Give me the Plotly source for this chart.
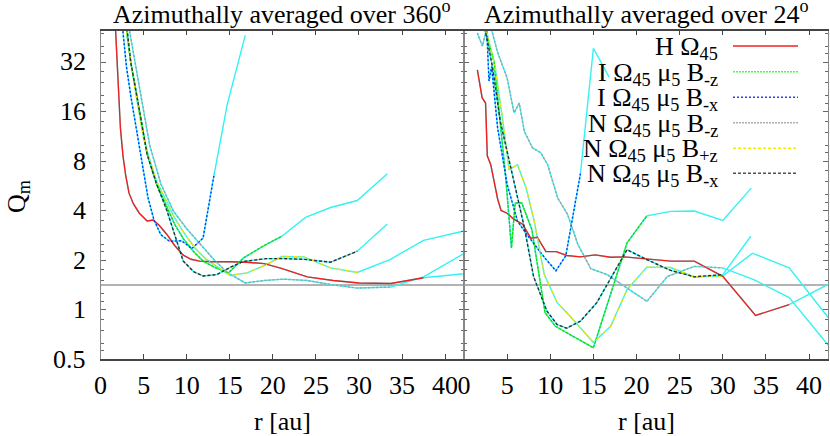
import math
import plotly.graph_objects as go

W, H = 830, 436

# ---------------- data ----------------
# left panel: azimuthally averaged over 360 deg
# each series = coloured inner part + cyan continuation (tail starts at last inner point)
h_l_x = [1.7, 2.3, 2.6, 2.9, 3.3, 3.8, 4.5, 5.4, 6.1, 6.8, 7.7, 8.6, 9.6, 10.5, 11.5, 13.0, 15.0, 17.0, 19.0, 21.0, 24.0, 27.0, 30.0, 33.7, 37.5]
h_l_y = [55, 12.7, 8.6, 6.6, 5.1, 4.4, 3.85, 3.45, 3.5, 3.25, 2.86, 2.45, 2.14, 2.02, 1.97, 1.95, 1.95, 1.94, 1.9, 1.78, 1.58, 1.5, 1.45, 1.44, 1.56]
h_l_tx = [37.5, 42.2]
h_l_ty = [1.56, 1.65]

ibz_l_x = [2.9, 3.5, 4.2, 5.4, 6.5, 7.7, 8.6, 9.6, 10.8, 11.9, 13.3, 14.85, 16.6, 19.0, 21.05]
ibz_l_y = [55, 32, 20, 8.8, 5.8, 4.2, 3.3, 2.7, 2.25, 1.97, 1.8, 1.67, 2.06, 2.45, 2.79]
ibz_l_tx = [21.05, 23.8, 26.7, 29.8, 33.3]
ibz_l_ty = [2.79, 3.63, 4.17, 4.6, 6.7]

ibx_l_x = [2.5, 3.0, 3.5, 4.0, 4.5, 5.0, 5.5, 6.2, 7.0, 8.0, 9.4, 10.6, 11.9, 13.2]
ibx_l_y = [55, 30, 20, 14, 10, 7.2, 4.8, 3.5, 2.85, 2.6, 2.62, 2.35, 2.72, 6.7]
ibx_l_tx = [13.2, 14.7, 16.8]
ibx_l_ty = [6.7, 17.6, 46.5]

nbz_l_x = [3.2, 3.8, 4.6, 5.7, 7.0, 8.45, 10.0, 11.6, 13.2, 14.7, 16.8, 19.0, 21.2, 24.0, 26.7, 29.8, 33.7]
nbz_l_y = [55, 37, 21, 10, 5.8, 3.97, 3.1, 2.49, 2.0, 1.68, 1.45, 1.5, 1.53, 1.5, 1.42, 1.35, 1.37]
nbz_l_tx = [33.7, 37.5, 42.2]
nbz_l_ty = [1.37, 1.58, 2.19]

npz_l_x = [2.9, 3.5, 4.2, 5.0, 5.6, 6.5, 7.7, 8.6, 9.8, 11.0, 12.3, 13.7, 15.05, 17.0, 19.0, 21.05, 23.6, 26.7, 29.8]
npz_l_y = [55, 32, 19, 11, 8.5, 6.0, 4.5, 3.6, 2.86, 2.35, 2.01, 1.8, 1.61, 1.67, 1.85, 2.1, 2.09, 1.79, 1.68]
npz_l_tx = [29.8, 33.6, 37.5, 42.2]
npz_l_ty = [1.68, 2.01, 2.63, 3.0]

nbx_l_x = [3.0, 3.5, 4.2, 5.4, 6.5, 7.7, 8.85, 9.6, 10.8, 11.9, 13.5, 15.0, 16.6, 19.3, 21.0, 23.6, 26.7, 29.8]
nbx_l_y = [55, 32, 20, 8.8, 5.8, 4.0, 2.6, 1.97, 1.7, 1.6, 1.63, 1.8, 1.96, 2.04, 2.04, 2.02, 1.94, 2.26]
nbx_l_tx = [29.8, 33.3]
nbx_l_ty = [2.26, 3.31]

# right panel: azimuthally averaged over 24 deg
h_r_x = [1.55, 2.1, 2.5, 2.7, 3.1, 3.9, 4.3, 5.0, 5.8, 6.8, 7.75, 8.5, 9.5, 10.7, 11.9, 13.5, 15.2, 17.0, 18.6, 20.1, 22.0, 23.95, 26.7, 30.0, 33.8, 37.7]
h_r_y = [28.7, 19.4, 18, 8.6, 7.6, 4.7, 4.0, 3.85, 3.53, 3.3, 2.71, 2.75, 2.25, 2.25, 2.13, 2.09, 2.15, 2.08, 2.09, 2.05, 2.02, 1.97, 1.97, 1.59, 0.92, 1.07]
h_r_tx = [37.7, 42.2]
h_r_ty = [1.07, 1.42]

ibz_r_x = [2.2, 3.5, 4.26, 4.85, 5.5, 5.93, 6.7, 7.87, 9.4, 10.6, 12.8, 15.0, 18.9, 21.2]
ibz_r_y = [55, 32, 12.7, 6.3, 2.37, 4.44, 4.44, 3.06, 0.955, 0.79, 0.68, 0.585, 2.54, 3.71]
ibz_r_tx = [21.2, 23.95, 26.7, 30.0, 33.3]
ibz_r_ty = [3.71, 3.95, 3.97, 3.48, 5.47]

ibx_r_x = [2.6, 2.9, 3.2, 3.9, 5.0, 6.2, 7.2, 8.14, 9.4, 10.66, 11.8, 13.5]
ibx_r_y = [55, 24.5, 30, 12.7, 5.77, 3.45, 2.9, 2.49, 2.05, 1.72, 2.12, 6.7]
ibx_r_tx = [13.5, 15.0, 16.8]
ibx_r_ty = [6.7, 38.8, 26.0]

nbz_r_x = [1.55, 2.13, 2.5, 3.0, 3.87, 5.0, 5.8, 6.4, 7.0, 7.95, 8.9, 9.7, 10.85, 12.0, 13.2, 14.7, 16.6, 18.9, 21.2, 23.6, 26.7, 30.0]
nbz_r_y = [48, 40, 48, 55, 37, 25.6, 15.7, 18, 12.1, 9.6, 8.98, 7.6, 4.78, 3.79, 2.49, 1.77, 1.63, 1.35, 1.12, 1.59, 1.83, 1.79]
nbz_r_tx = [30.0, 33.6, 37.7, 42.3]
nbz_r_ty = [1.79, 1.52, 1.18, 0.6]

npz_r_x = [2.4, 3.6, 4.5, 5.23, 6.2, 7.2, 8.14, 9.3, 10.8, 12.3, 15.0, 17.0, 18.9, 21.2, 23.95, 26.7, 30.0]
npz_r_y = [55, 30, 14, 7.1, 7.6, 5.5, 3.45, 1.64, 1.1, 0.91, 0.63, 0.79, 1.32, 1.81, 1.8, 1.58, 1.6]
npz_r_tx = [30.0, 33.45, 37.7, 42.4]
npz_r_ty = [1.6, 2.2, 1.79, 0.87]

nbx_r_x = [2.3, 3.3, 4.2, 5.4, 6.2, 7.0, 8.06, 9.6, 10.8, 11.9, 13.5, 15.4, 18.9, 21.2, 23.95, 26.7, 30.0]
nbx_r_y = [55, 30, 14, 7.3, 4.8, 3.15, 1.59, 0.98, 0.81, 0.77, 0.85, 1.1, 2.31, 2.01, 1.73, 1.58, 1.63]
nbx_r_tx = [30.0, 33.25]
nbx_r_ty = [1.63, 2.79]

q_crit = 1.41
x_ticks = [0, 5, 10, 15, 20, 25, 30, 35, 40]
y_ticks = [0.5, 1, 2, 4, 8, 16, 32]
y_tick_text = ["0.5", "1", "2", "4", "8", "16", "32"]
titles = ["Azimuthally averaged over 360<sup>o</sup>", "Azimuthally averaged over 24<sup>o</sup>"]
labels = ["H Ω<sub>45</sub>",
          "I Ω<sub>45</sub> μ<sub>5</sub> B<sub>-z</sub>",
          "I Ω<sub>45</sub> μ<sub>5</sub> B<sub>-x</sub>",
          "N Ω<sub>45</sub> μ<sub>5</sub> B<sub>-z</sub>",
          "N Ω<sub>45</sub> μ<sub>5</sub> B<sub>+z</sub>",
          "N Ω<sub>45</sub> μ<sub>5</sub> B<sub>-x</sub>"]

left = [(h_l_x, h_l_y, h_l_tx, h_l_ty), (ibz_l_x, ibz_l_y, ibz_l_tx, ibz_l_ty),
        (ibx_l_x, ibx_l_y, ibx_l_tx, ibx_l_ty), (nbz_l_x, nbz_l_y, nbz_l_tx, nbz_l_ty),
        (npz_l_x, npz_l_y, npz_l_tx, npz_l_ty), (nbx_l_x, nbx_l_y, nbx_l_tx, nbx_l_ty)]
right = [(h_r_x, h_r_y, h_r_tx, h_r_ty), (ibz_r_x, ibz_r_y, ibz_r_tx, ibz_r_ty),
         (ibx_r_x, ibx_r_y, ibx_r_tx, ibx_r_ty), (nbz_r_x, nbz_r_y, nbz_r_tx, nbz_r_ty),
         (npz_r_x, npz_r_y, npz_r_tx, npz_r_ty), (nbx_r_x, nbx_r_y, nbx_r_tx, nbx_r_ty)]

# styles (colour, dash) for the coloured overlays
styles = [("#f02020", "solid"), ("#10e010", "3px,1px"), ("#1030ff", "2px,2px"),
          ("#a0a0a0", "2px,2px"), ("#e8e800", "4px,2px,1px,2px"), ("#303030", "3px,2px")]
cyan = "#35f2f2"


def px(x):
    return x / W


def py(y):
    return 1 - y / H


fig = go.Figure()

for panel, xa, ya in [(left, "x", "y"), (right, "x2", "y2")]:
    fig.add_trace(go.Scatter(x=[0, 42.2], y=[q_crit, q_crit], mode="lines", xaxis=xa, yaxis=ya,
                             line=dict(color="#9a9a9a", width=1.5), showlegend=False, hoverinfo="skip"))
    # cyan continuation drawn underneath
    for sx, sy, tx, ty in panel:
        fig.add_trace(go.Scatter(x=sx + tx[1:], y=sy + ty[1:], mode="lines", xaxis=xa, yaxis=ya,
                                 line=dict(color=cyan, width=1.4), showlegend=False))
    for (sx, sy, tx, ty), (col, dash) in zip(panel, styles):
        fig.add_trace(go.Scatter(x=sx, y=sy, mode="lines", xaxis=xa, yaxis=ya,
                                 line=dict(color=col, width=1.4, dash=dash), showlegend=False))

font = dict(family="Liberation Serif", size=26, color="black")
minor_vals = [b * m for b in [0.25] + y_ticks for m in (1.125, 1.25, 1.5, 1.75)]

xcommon = dict(range=[0, 42.2], tickvals=x_ticks, ticks="inside", ticklen=5, tickcolor="#444",
               showline=True, linecolor="#444", linewidth=1.5, mirror="ticks", showgrid=False,
               zeroline=False, tickfont=font, ticklabelstandoff=2, automargin=False)
ycommon = dict(type="log", range=[-0.30103, 1.6955], tickvals=y_ticks, ticks="inside", ticklen=5,
               tickcolor="#666", showline=True, linecolor="#888", linewidth=1.2, mirror="ticks",
               showgrid=False, zeroline=False, showticklabels=False, automargin=False,
               domain=[py(359), py(30.7)],
               minor=dict(tickvals=minor_vals, ticks="inside", ticklen=3, tickcolor="#666"))

fig.update_layout(
    width=W, height=H, margin=dict(l=0, r=0, t=0, b=0),
    paper_bgcolor="white", plot_bgcolor="white", font=font, showlegend=False,
    xaxis=dict(domain=[px(100.6), px(464)], anchor="y", **xcommon),
    xaxis2=dict(domain=[px(464), px(828)], anchor="y2", **xcommon),
    yaxis=dict(anchor="x", **ycommon),
    yaxis2=dict(anchor="x2", **ycommon),
)

ann = []
# y tick labels placed on the log axis (annotation y is log10 of value)
for v, t in zip(y_ticks, y_tick_text):
    ann.append(dict(x=px(88), y=math.log10(v), xref="paper", yref="y", text=t, showarrow=False,
                    xanchor="right", yanchor="middle", font=font))
for cx, t in zip([282, 646], titles):
    ann.append(dict(x=px(cx), y=py(12), xref="paper", yref="paper", text=t, showarrow=False,
                    xanchor="center", yanchor="middle", font=font))
    ann.append(dict(x=px(cx), y=py(421), xref="paper", yref="paper", text="r [au]", showarrow=False,
                    xanchor="center", yanchor="middle", font=font))
ann.append(dict(x=px(18), y=py(197), xref="paper", yref="paper", text="Q<sub>m</sub>", showarrow=False,
                textangle=-90, xanchor="center", yanchor="middle", font=font))

rows = [46, 71.7, 97.3, 122.7, 148.3, 173.3]
legend_dash = ["solid", "2px,1px", "2px,2px", "2px,1px", "3px,2px", "3px,2px"]
legend_col = ["#f02020", "#40ff40", "#2040ff", "#b0b0b0", "#f0f000", "#505050"]
shapes = []
for r, lab, col, dash in zip(rows, labels, legend_col, legend_dash):
    ann.append(dict(x=px(720), y=py(r + 2), xref="paper", yref="paper", text=lab, showarrow=False,
                    xanchor="right", yanchor="middle", font=font))
    shapes.append(dict(type="line", xref="paper", yref="paper", x0=px(733), x1=px(798),
                       y0=py(r), y1=py(r), line=dict(color=col, width=1.4, dash=dash)))

fig.update_layout(annotations=ann, shapes=shapes)
# page body margin would otherwise shift the figure by 8px
fig.write_html("out.html", config={"displayModeBar": False},
               post_script="document.body.style.margin='0px';")
